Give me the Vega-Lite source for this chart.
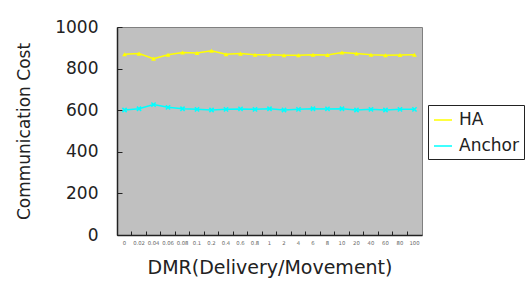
{
  "$schema": "https://vega.github.io/schema/vega-lite/v6.json",
  "width": 305,
  "height": 208,
  "autosize": {"type": "none"},
  "padding": {"left": 117, "top": 27, "right": 103, "bottom": 53},
  "background": "white",
  "config": {
    "font": "DejaVu Sans",
    "view": {"fill": "#C0C0C0", "stroke": "#808080", "strokeWidth": 1}
  },
  "data": {
    "values": [
      {"dmr": "0", "series": "HA", "cost": 869},
      {"dmr": "0.02", "series": "HA", "cost": 872},
      {"dmr": "0.04", "series": "HA", "cost": 848},
      {"dmr": "0.06", "series": "HA", "cost": 867},
      {"dmr": "0.08", "series": "HA", "cost": 877},
      {"dmr": "0.1", "series": "HA", "cost": 875},
      {"dmr": "0.2", "series": "HA", "cost": 886},
      {"dmr": "0.4", "series": "HA", "cost": 869},
      {"dmr": "0.6", "series": "HA", "cost": 872},
      {"dmr": "0.8", "series": "HA", "cost": 867},
      {"dmr": "1", "series": "HA", "cost": 867},
      {"dmr": "2", "series": "HA", "cost": 864},
      {"dmr": "4", "series": "HA", "cost": 864},
      {"dmr": "6", "series": "HA", "cost": 867},
      {"dmr": "8", "series": "HA", "cost": 865},
      {"dmr": "10", "series": "HA", "cost": 877},
      {"dmr": "20", "series": "HA", "cost": 873},
      {"dmr": "40", "series": "HA", "cost": 867},
      {"dmr": "60", "series": "HA", "cost": 864},
      {"dmr": "80", "series": "HA", "cost": 865},
      {"dmr": "100", "series": "HA", "cost": 867},
      {"dmr": "0", "series": "Anchor", "cost": 601},
      {"dmr": "0.02", "series": "Anchor", "cost": 607},
      {"dmr": "0.04", "series": "Anchor", "cost": 627},
      {"dmr": "0.06", "series": "Anchor", "cost": 614},
      {"dmr": "0.08", "series": "Anchor", "cost": 607},
      {"dmr": "0.1", "series": "Anchor", "cost": 604},
      {"dmr": "0.2", "series": "Anchor", "cost": 601},
      {"dmr": "0.4", "series": "Anchor", "cost": 604},
      {"dmr": "0.6", "series": "Anchor", "cost": 606},
      {"dmr": "0.8", "series": "Anchor", "cost": 604},
      {"dmr": "1", "series": "Anchor", "cost": 607},
      {"dmr": "2", "series": "Anchor", "cost": 601},
      {"dmr": "4", "series": "Anchor", "cost": 604},
      {"dmr": "6", "series": "Anchor", "cost": 607},
      {"dmr": "8", "series": "Anchor", "cost": 606},
      {"dmr": "10", "series": "Anchor", "cost": 607},
      {"dmr": "20", "series": "Anchor", "cost": 601},
      {"dmr": "40", "series": "Anchor", "cost": 604},
      {"dmr": "60", "series": "Anchor", "cost": 601},
      {"dmr": "80", "series": "Anchor", "cost": 604},
      {"dmr": "100", "series": "Anchor", "cost": 604}
    ]
  },
  "encoding": {
    "x": {
      "field": "dmr",
      "type": "ordinal",
      "sort": null,
      "scale": {"type": "band", "paddingInner": 0, "paddingOuter": 0.02},
      "axis": {
        "title": "DMR(Delivery/Movement)",
        "titleFontSize": 19,
        "titleFontWeight": "normal",
        "titleColor": "#222",
        "titlePadding": 13,
        "labelAngle": 0,
        "labelFontSize": 5.3,
        "labelColor": "#666",
        "labelPadding": 9,
        "bandPosition": 0,
        "labelOffset": 0,
        "labelOverlap": false,
        "tickSize": -4,
        "tickColor": "#222",
        "domainColor": "#222",
        "domainWidth": 1.5,
        "grid": false
      }
    },
    "y": {
      "field": "cost",
      "type": "quantitative",
      "scale": {"domain": [0, 1000]},
      "axis": {
        "title": "Communication Cost",
        "titleFontSize": 17,
        "titleFontWeight": "normal",
        "titleColor": "#222",
        "titlePadding": 21,
        "values": [0, 200, 400, 600, 800, 1000],
        "format": "d",
        "labelFontSize": 17,
        "labelColor": "#222",
        "labelPadding": 24,
        "tickSize": -5,
        "tickColor": "#222",
        "domainColor": "#222",
        "domainWidth": 1.5,
        "grid": false
      }
    },
    "color": {
      "field": "series",
      "type": "nominal",
      "scale": {"domain": ["HA", "Anchor"], "range": ["#FFFF00", "#00FFFF"]},
      "legend": {
        "title": null,
        "orient": "none",
        "legendX": 311,
        "legendY": 78,
        "symbolType": "stroke",
        "symbolStrokeWidth": 1.5,
        "symbolOpacity": 1,
        "symbolSize": 324,
        "labelFontSize": 17,
        "labelColor": "#222",
        "rowPadding": 8,
        "padding": 5,
        "strokeColor": "#222",
        "fillColor": "white",
        "labelOffset": 6
      }
    }
  },
  "layer": [
    {"mark": {"type": "line", "strokeWidth": 1.5}},
    {
      "transform": [{"filter": "datum.series === 'HA'"}],
      "mark": {"type": "point", "filled": true, "size": 22, "opacity": 1, "shape": "triangle-up"}
    },
    {
      "transform": [{"filter": "datum.series === 'Anchor'"}],
      "mark": {"type": "point", "filled": false, "size": 18, "opacity": 1, "strokeWidth": 1.5, "shape": "M-1,-1L1,1M-1,1L1,-1"}
    }
  ]
}
